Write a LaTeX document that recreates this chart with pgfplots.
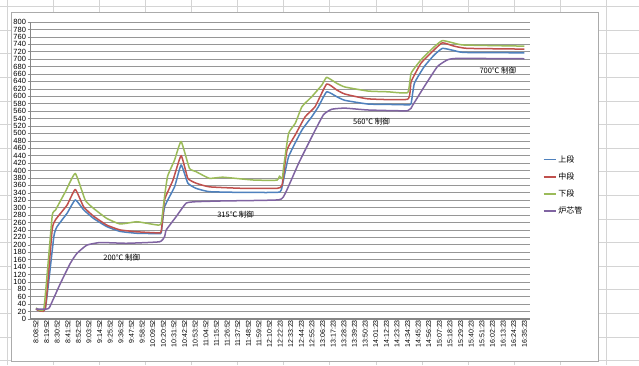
\documentclass[border=0pt]{standalone}
\usepackage{pgfplots}
\pgfplotsset{compat=1.18}
\usepackage{fontspec}
\setmainfont{Liberation Sans}
\newfontfamily\cjk{Noto Sans CJK JP}
\definecolor{xlblue}{HTML}{4F81BD}
\definecolor{xlred}{HTML}{C0504D}
\definecolor{xlgreen}{HTML}{9BBB59}
\definecolor{xlpurple}{HTML}{8064A2}
\definecolor{gridc}{HTML}{969696}
\definecolor{axc}{HTML}{868686}
\definecolor{cellc}{HTML}{D4D4D4}
\begin{document}
\begin{tikzpicture}[x=1pt,y=1pt]
\useasboundingbox (-36,-46) rectangle (603,319);
\fill[white] (-36,-46) rectangle (603,319);
% spreadsheet cell grid in the background
\foreach \c in {7,53.1,99.2,145.3,191.4,237.5,283.6,329.7,375.8,421.9,468,514.1,560.2,606.3}{
  \draw[cellc, line width=0.5pt] (\c-36,-46) -- (\c-36,319);}
\foreach \r in {6.4,30,53.6,77.2,100.8,124.4,148,171.6,195.2,218.8,242.4,266,289.6,313.2,336.8,360.4}{
  \draw[cellc, line width=0.5pt] (-36,319-\r) -- (603,319-\r);}
% chart area
\filldraw[fill=white, draw=gridc!80, line width=0.8pt] (-25,-42) rectangle (562,307);
\begin{axis}[
  at={(0,0)}, anchor=origin,
  scale only axis, width=499pt, height=297pt,
  xmin=-0.5, xmax=46.5, ymin=0, ymax=800,
  axis line style={draw=axc},
  axis x line*=bottom, axis y line*=left,
  x axis line style={line width=1.6pt, draw=axc},
  ytick={0,20,...,800},
  ymajorgrids, grid style={draw=gridc, line width=0.6pt},
  tick style={draw=axc, line width=0.5pt},
  major tick length=3pt,
  ytick align=outside,
  xtick={0,...,46}, xtick style={draw=none},
  xticklabels={8:08:52,8:19:52,8:30:52,8:41:52,8:52:52,9:03:52,9:14:52,9:25:52,9:36:52,9:47:52,9:58:52,10:09:52,10:20:52,10:31:52,10:42:52,10:53:52,11:04:52,11:15:52,11:26:52,11:37:52,11:48:52,11:59:52,12:10:52,12:22:23,12:33:23,12:44:23,12:55:23,13:06:23,13:17:23,13:28:23,13:39:23,13:50:23,14:01:23,14:12:23,14:23:23,14:34:23,14:45:23,14:56:23,15:07:23,15:18:23,15:29:23,15:40:23,15:51:23,16:02:23,16:13:23,16:24:23,16:35:23},
  xticklabel style={rotate=90, anchor=east, font=\fontsize{7}{8}\selectfont, inner sep=1pt},
  yticklabel style={font=\fontsize{7.5}{8}\selectfont, inner sep=1.5pt},
  /pgf/number format/assume math mode=true,
  legend style={at={(rel axis cs:1.02,0.45)}, anchor=west, draw=none, fill=none,
    font=\cjk\fontsize{8}{9}\selectfont, row sep=5pt},
  legend cell align=left,
  legend image code/.code={\draw[#1, line width=1.6pt] (0pt,0pt) -- (12pt,0pt);},
  every axis plot/.append style={line width=1.5pt, line join=round, smooth, tension=0.25},
]
\addplot[xlblue] table {
0 27
0.87 27
1.68 222
1.99 249
2.93 285
3.70 321
4.49 294
5.42 271
6.66 249
7.91 236
9.47 231
11.34 230
11.64 230
11.8 233
12.11 302
13.05 356
13.67 415
14.30 366
15.07 352
16.32 343
19.44 341
22.71 341
23.11 348
23.79 437
25.05 509
25.98 545
26.60 572
27.38 612
28.32 599
29.09 589
31.27 579
33.14 578
35.01 577
35.33 580
35.64 635
36.57 680
37.50 711
38.28 729
39.38 723
40.31 718
46 717
};
\addlegendentry{上段}
\addplot[xlred] table {
0 27
0.87 27
1.52 240
1.83 267
2.93 307
3.70 349
4.49 302
5.42 277
6.66 253
7.91 240
9.47 235
11.50 232
11.8 236
12.11 321
12.90 374
13.67 440
14.30 379
15.07 366
16.32 356
19.44 352
22.71 352
23.18 361
23.64 455
24.42 496
25.36 545
26.29 572
27.38 633
28.32 617
29.09 606
31.27 593
35.01 592
35.33 639
36.26 689
37.50 725
38.28 744
39.38 735
40.62 729
46 727
};
\addlegendentry{中段}
\addplot[xlgreen] table {
0 30
0.75 30
1.52 276
1.83 293
2.77 343
3.70 392
4.64 320
5.42 298
6.66 271
7.91 256
9.47 262
10.40 258
11.50 253
11.8 258
12.11 330
12.4 385
13.05 428
13.67 478
14.45 406
15.07 397
16.32 379
17.57 382
19.44 377
20.68 374
22.71 374
22.93 385
23.2 378
23.33 410
23.79 500
24.42 527
25.05 572
25.98 599
26.92 630
27.38 651
28.32 635
29.09 625
31.27 614
33.14 612
35.01 610
35.33 662
36.26 698
37.50 733
38.28 750
39.38 743
40.31 738
46 735
};
\addlegendentry{下段}
\addplot[xlpurple] table {
0 27
1.06 27
1.3 33
2.30 96
3.23 150
3.86 177
4.79 199
6.04 206
8.53 204
11.64 208
12.11 222
12.27 240
13.21 276
14.14 312
15.07 316
17.57 318
22.86 321
23.49 339
24.73 419
25.98 491
27.07 550
27.85 565
29.09 568
31.27 563
35.01 561
35.48 576
36.57 626
37.81 680
38.75 698
39.69 702
46 701
};
\addlegendentry{炉芯管}
\node[font=\cjk\fontsize{7.5}{8}\selectfont] at (axis cs:8.07,164) {200℃ 制御};
\node[font=\cjk\fontsize{7.5}{8}\selectfont] at (axis cs:18.8,281) {315℃ 制御};
\node[font=\cjk\fontsize{7.5}{8}\selectfont] at (axis cs:31.6,531) {560℃ 制御};
\node[font=\cjk\fontsize{7.5}{8}\selectfont] at (axis cs:43.5,668) {700℃ 制御};
\end{axis}
\end{tikzpicture}
\end{document}
